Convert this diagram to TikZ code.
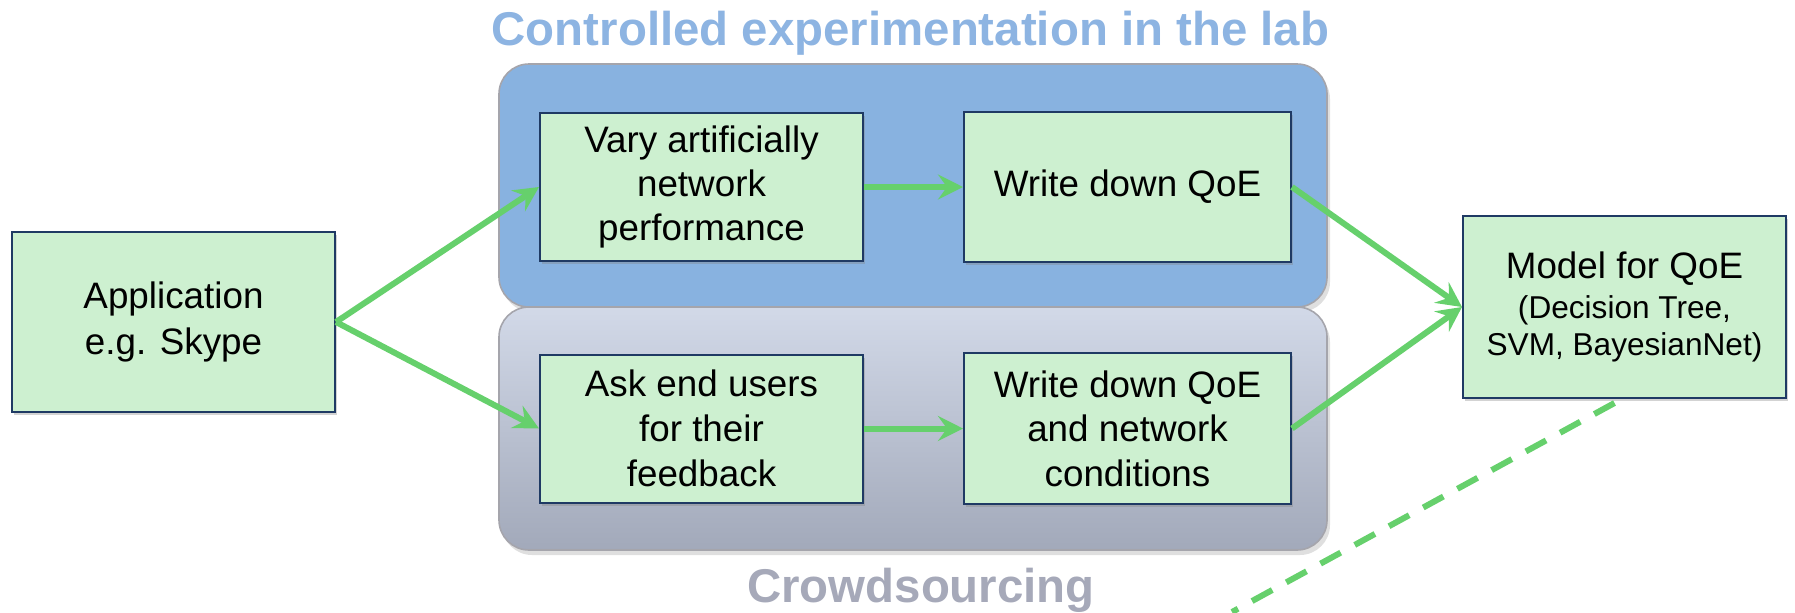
\documentclass[tikz,border=0pt]{standalone}
\usepackage{fontspec}
\setmainfont{Liberation Sans}
\usetikzlibrary{arrows.meta,shadows}
\definecolor{boxgreen}{RGB}{205,240,208}
\definecolor{boxborder}{RGB}{31,58,100}
\definecolor{panelblue}{RGB}{136,178,224}
\definecolor{grayTop}{RGB}{210,217,232}
\definecolor{grayBot}{RGB}{162,169,186}
\definecolor{panelborder}{RGB}{165,165,172}
\definecolor{arrowgreen}{RGB}{102,208,108}
\definecolor{titleblue}{RGB}{141,180,226}
\definecolor{titlegray}{RGB}{166,169,185}
\tikzset{
  stepbox/.style={draw=boxborder, fill=boxgreen, line width=1pt, align=center,
    inner sep=0pt, font=\fontsize{18.4}{22.2}\selectfont,
    drop shadow={opacity=0.35, shadow xshift=1.2pt, shadow yshift=-1.5pt}},
  topstrut/.style={execute at begin node={\rule{0pt}{#1}}},
  panel/.style={draw=panelborder, line width=0.8pt, rounded corners=15pt,
    drop shadow={opacity=0.25, shadow xshift=1.5pt, shadow yshift=-2.5pt}},
  flow/.style={draw=arrowgreen, line width=3pt,
    -{Stealth[length=12.5pt, width=12.5pt, inset=4.5pt]}},
  dashflow/.style={draw=arrowgreen, line width=3pt, dash pattern=on 11.5pt off 8pt},
  heading/.style={font=\fontsize{23.7}{28}\selectfont\bfseries, anchor=base}
}
\begin{document}
\begin{tikzpicture}[x=0.5pt, y=-0.5pt]
\useasboundingbox (0,0) rectangle (1795,612);
% panels
\path[panel, fill=panelblue] (499,64) rectangle (1327,307);
\path[panel, top color=grayTop, bottom color=grayBot] (499,307) rectangle (1327,550);
% headings
\node[heading, text=titleblue] (title) at (910.5,45) {Controlled experimentation in the lab};
\node[heading, text=titlegray] (crowd) at (921,602) {Crowdsourcing};
% boxes
\node[stepbox, font=\fontsize{18.4}{23}\selectfont, topstrut=17.3pt, minimum width=161.5pt, minimum height=90pt] (app) at (173.5,322) {Application\\e.g. Skype};
\node[stepbox, font=\fontsize{18.4}{21.9}\selectfont, topstrut=17.3pt, minimum width=161.5pt, minimum height=74pt] (vary) at (701.5,187) {Vary artificially\\network\\performance};
\node[stepbox, minimum width=163.5pt, minimum height=75pt] (write1) at (1127.5,187) {Write down QoE};
\node[stepbox, font=\fontsize{18.4}{22.5}\selectfont, minimum width=161.5pt, minimum height=74pt] (ask) at (701.5,428.5) {Ask end users\\for their\\feedback};
\node[stepbox, minimum width=163.5pt, minimum height=75.5pt] (write2) at (1127.5,428.5) {Write down QoE\\and network\\conditions};
\node[stepbox, minimum width=161.5pt, minimum height=91pt, font=\fontsize{15.8}{20}\selectfont, topstrut=16.4pt] (model) at (1624.5,307)
  {{\fontsize{18.4}{20}\selectfont Model for QoE}\\(Decision Tree,\\[-1.8pt]SVM, BayesianNet)};
% connectors
\draw[flow] (app.east) -- (vary.west);
\draw[flow] (app.east) -- (ask.west);
\draw[flow] (vary.east) -- (write1.west);
\draw[flow] (ask.east) -- (write2.west);
\draw[flow] (write1.east) -- (model.west);
\draw[flow] (write2.east) -- (model.west);
\coordinate (dashend) at (1232,612);
\draw[dashflow] ([xshift=-5pt,yshift=-2pt]model.south) -- (dashend);
\end{tikzpicture}
\end{document}
